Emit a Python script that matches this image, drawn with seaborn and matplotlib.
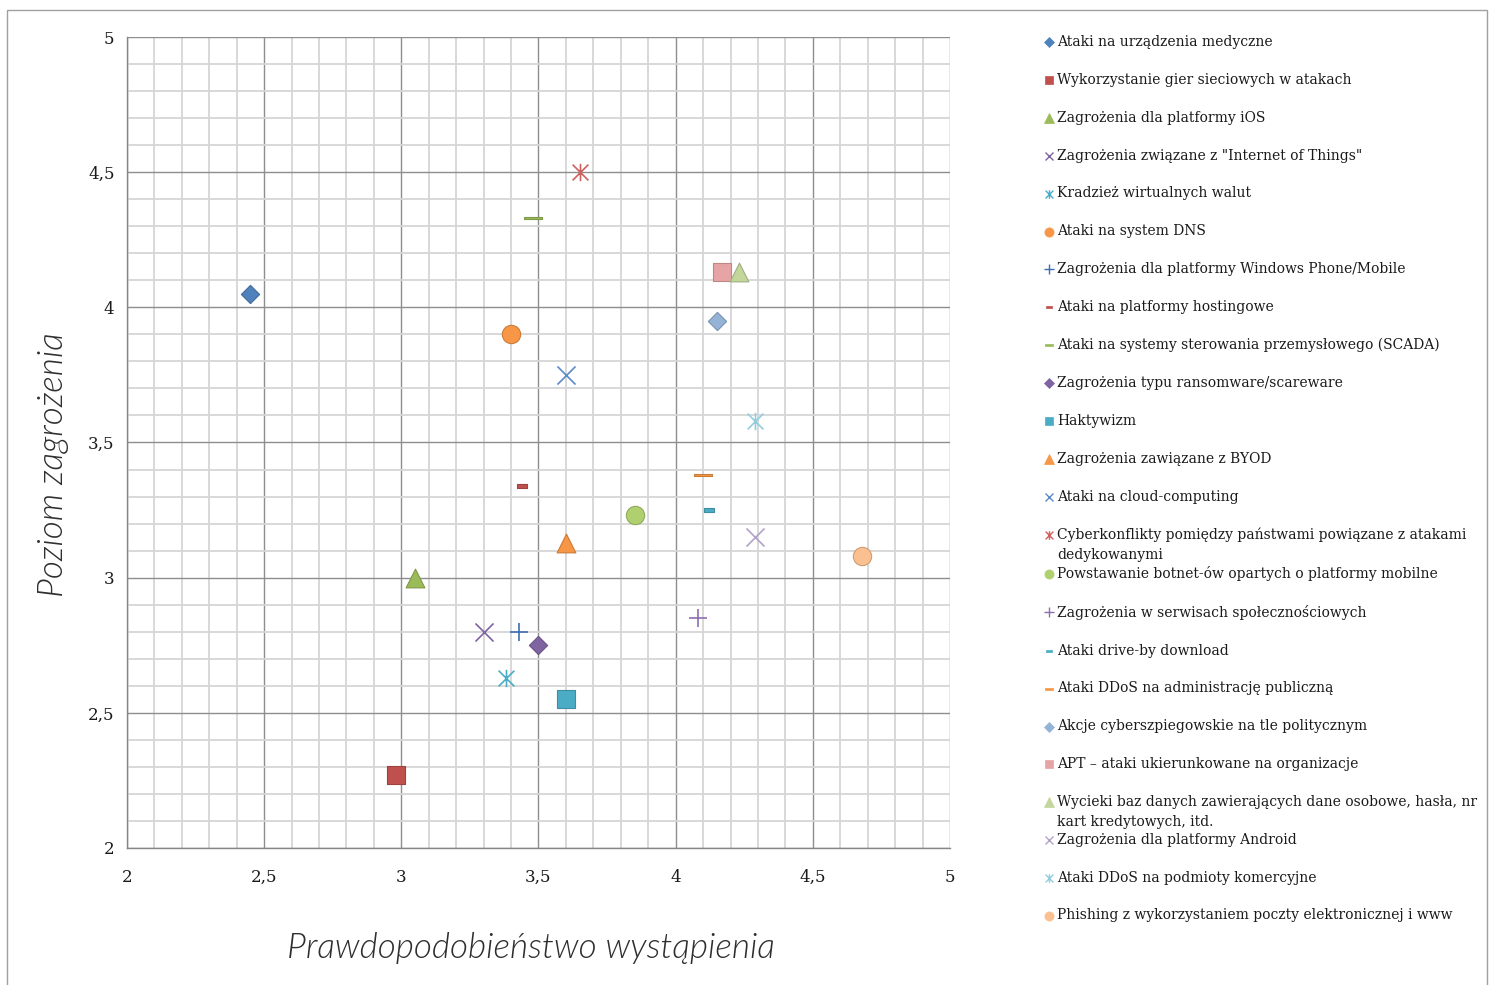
import numpy as np
import matplotlib
matplotlib.use("Agg")
import matplotlib.pyplot as plt
import seaborn as sns
from matplotlib.path import Path
from matplotlib.lines import Line2D
from matplotlib.legend_handler import HandlerLine2D
from matplotlib.ticker import MultipleLocator, FuncFormatter
from matplotlib.patches import Rectangle

# ---------------- data ----------------
threats = [
    "Ataki na urządzenia medyczne",
    "Wykorzystanie gier sieciowych w atakach",
    "Zagrożenia dla platformy iOS",
    "Zagrożenia związane z \"Internet of Things\"",
    "Kradzież wirtualnych walut",
    "Ataki na system DNS",
    "Zagrożenia dla platformy Windows Phone/Mobile",
    "Ataki na platformy hostingowe",
    "Ataki na systemy sterowania przemysłowego (SCADA)",
    "Zagrożenia typu ransomware/scareware",
    "Haktywizm",
    "Zagrożenia zawiązane z BYOD",
    "Ataki na cloud-computing",
    "Cyberkonflikty pomiędzy państwami powiązane z atakami\ndedykowanymi",
    "Powstawanie botnet-ów opartych o platformy mobilne",
    "Zagrożenia w serwisach społecznościowych",
    "Ataki drive-by download",
    "Ataki DDoS na administrację publiczną",
    "Akcje cyberszpiegowskie na tle politycznym",
    "APT – ataki ukierunkowane na organizacje",
    "Wycieki baz danych zawierających dane osobowe, hasła, nr\nkart kredytowych, itd.",
    "Zagrożenia dla platformy Android",
    "Ataki DDoS na podmioty komercyjne",
    "Phishing z wykorzystaniem poczty elektronicznej i www",
]
probability = [2.45, 2.98, 3.05, 3.30, 3.38, 3.40, 3.43, 3.44, 3.48, 3.50, 3.60, 3.60,
               3.60, 3.65, 3.85, 4.08, 4.12, 4.10, 4.15, 4.17, 4.23, 4.29, 4.29, 4.68]
severity = [4.05, 2.27, 3.00, 2.80, 2.63, 3.90, 2.80, 3.34, 4.33, 2.75, 2.55, 3.13,
            3.75, 4.50, 3.23, 2.85, 3.25, 3.38, 3.95, 4.13, 4.13, 3.15, 3.58, 3.08]
x_ticks = [2, 2.5, 3, 3.5, 4, 4.5, 5]
y_ticks = [2, 2.5, 3, 3.5, 4, 4.5, 5]

# ---------------- styles ----------------
colors = ["#4F81BD", "#C0504D", "#9BBB59", "#8064A2", "#4BACC6", "#F79646",
          "#3C6EB4", "#C0504D", "#9BBB59", "#8064A2", "#4BACC6", "#F79646",
          "#5B8BC9", "#D0605D", "#B0D070", "#8C70B0", "#4BACC6", "#F79646",
          "#95B3D7", "#E6A5A4", "#C3D69B", "#B3A2C7", "#93CDDD", "#FAC090"]
kind_cycle = ["diamond", "square", "triangle", "x", "asterisk", "circle", "plus", "dash_s", "dash_l"]

M, L, C = Path.MOVETO, Path.LINETO, Path.CLOSEPOLY
ASTER = Path([(-1, -1), (1, 1), (-1, 1), (1, -1), (0, -1.1), (0, 1.1)], [M, L, M, L, M, L])
DASH_S = Path([(-1, -0.36), (1, -0.36), (1, 0.36), (-1, 0.36), (-1, -0.36)], [M, L, L, L, C])
DASH_L = Path([(-1, -0.11), (1, -0.11), (1, 0.11), (-1, 0.11), (-1, -0.11)], [M, L, L, L, C])
DASH_LEG = Path([(-1, -0.3), (1, -0.3), (1, 0.3), (-1, 0.3), (-1, -0.3)], [M, L, L, L, C])
# kind -> (marker, size in plot (pt), legend marker, size in legend (pt), line-art?)
MARKERS = {
    "diamond": ("D", 9.3, "D", 4.8, False),
    "square": ("s", 12.8, "s", 6.2, False),
    "triangle": ("^", 13.5, "^", 6.8, False),
    "x": ("x", 13.0, "x", 6.2, True),
    "asterisk": (ASTER, 12.5, ASTER, 6.2, True),
    "circle": ("o", 13.2, "o", 6.6, False),
    "plus": ("+", 12.5, "+", 6.8, True),
    "dash_s": (DASH_S, 7.4, DASH_S, 3.8, False),
    "dash_l": (DASH_L, 13.5, DASH_LEG, 6.0, False),
}


def darker(c, f=0.82):
    r, g, b = matplotlib.colors.to_rgb(c)
    return (r * f, g * f, b * f)


sns.set_style("white")
plt.rcParams["font.family"] = ["DejaVu Serif", "DejaVu Sans"]

W, H = 1494, 985
fig = plt.figure(figsize=(W / 100, H / 100), dpi=100)
ax = fig.add_axes([127 / W, 1 - 848 / H, (950 - 127) / W, (848 - 37) / H])

for i in range(len(threats)):
    kind = kind_cycle[i % len(kind_cycle)]
    mk, ms, _, _, line = MARKERS[kind]
    if line:
        sns.scatterplot(x=[probability[i]], y=[severity[i]], marker=mk, s=ms ** 2,
                        color=colors[i], edgecolor=colors[i], linewidth=1.2,
                        ax=ax, legend=False, zorder=3)
    else:
        sns.scatterplot(x=[probability[i]], y=[severity[i]], marker=mk, s=ms ** 2,
                        color=colors[i], edgecolor=darker(colors[i]), linewidth=0.8,
                        ax=ax, legend=False, zorder=3)

ax.set_xlim(x_ticks[0], x_ticks[-1])
ax.set_ylim(y_ticks[0], y_ticks[-1])
ax.set_xticks(x_ticks)
ax.set_yticks(y_ticks)
ax.xaxis.set_minor_locator(MultipleLocator(0.1))
ax.yaxis.set_minor_locator(MultipleLocator(0.1))
fmt = FuncFormatter(lambda v, p: ("%g" % v).replace(".", ","))
ax.xaxis.set_major_formatter(fmt)
ax.yaxis.set_major_formatter(fmt)
ax.set_axisbelow(True)
ax.grid(which="minor", color="#D6D6D6", lw=1.3)
ax.grid(which="major", color="#8E8E8E", lw=1.0)
for s in ["top", "right"]:
    ax.spines[s].set_visible(False)
for s in ["left", "bottom"]:
    ax.spines[s].set_color("#868686")
    ax.spines[s].set_linewidth(1.0)
ax.tick_params(which="major", length=5, width=1, color="#868686", labelsize=12,
               labelcolor="#1A1A1A", direction="out")
ax.tick_params(axis="x", which="major", pad=10)
ax.tick_params(axis="y", which="major", pad=4)
ax.tick_params(which="minor", length=0)
for t in ax.get_xticklabels() + ax.get_yticklabels():
    t.set_family(["DejaVu Serif"])

lab_font = dict(family=["Lato", "DejaVu Sans"], style="italic", weight=300,
                size=25.3, color="#2E2E2E")
ax.set_xlabel("Prawdopodobieństwo wystąpienia", **lab_font)
ax.set_ylabel("Poziom zagrożenia", **lab_font)
ax.xaxis.set_label_coords(0.491, -0.103)
ax.yaxis.set_label_coords(-0.070, 0.473)

# legend
handles = []
labels = []
for i, name in enumerate(threats):
    kind = kind_cycle[i % len(kind_cycle)]
    _, _, lmk, lms, line = MARKERS[kind]
    handles.append(Line2D([], [], linestyle="none", marker=lmk, markersize=lms,
                          color=colors[i], markeredgecolor=colors[i],
                          markeredgewidth=1.0 if line else 0.5))
    labels.append(name if "\n" in name else name + "\n")

LEG_FS = 10


class UpHandler(HandlerLine2D):
    def create_artists(self, legend, orig_handle, xdescent, ydescent, width, height,
                       fontsize, trans):
        shift = 0.76 * fontsize
        return super().create_artists(legend, orig_handle, xdescent, ydescent - 2 * shift,
                                      width, height, fontsize, trans)


leg = fig.legend(handles, labels, loc="upper left", bbox_to_anchor=(1044 / W, 1 - 35 / H),
                 frameon=False, fontsize=LEG_FS, handlelength=0.7, handletextpad=0.25,
                 labelspacing=0.25, borderpad=0, borderaxespad=0,
                 handler_map={Line2D: UpHandler()})
for t in leg.get_texts():
    t.set_color("#1A1A1A")
    t.set_linespacing(1.58)

fig.add_artist(Rectangle((7 / W, -0.02), (1487 - 7) / W, 1.02 - 10 / H,
                         transform=fig.transFigure, fill=False, edgecolor="#A0A0A0", lw=1.0))

fig.savefig("out.png", dpi=100)
